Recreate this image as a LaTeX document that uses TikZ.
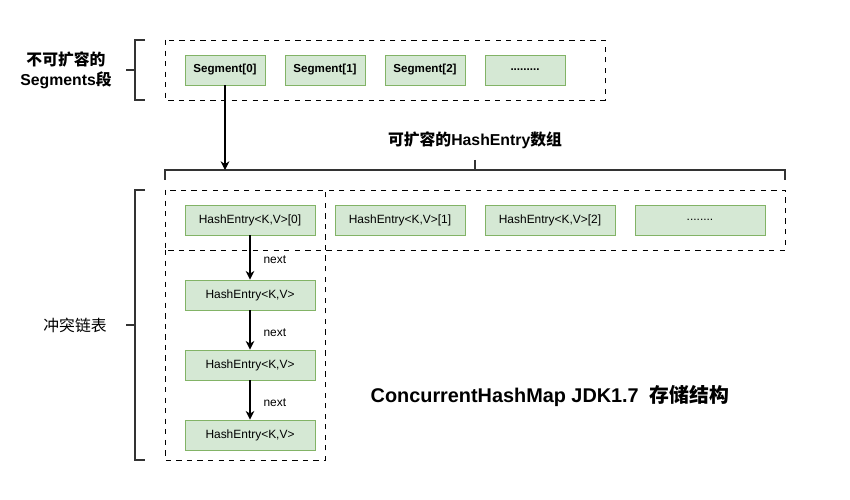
\documentclass[tikz,border=0pt]{standalone}
\usepackage{fontspec}
\setmainfont{Liberation Sans}
\newfontfamily\cjk{Noto Sans CJK SC}
\definecolor{entryfill}{HTML}{D5E8D4}
\definecolor{entryline}{HTML}{82B366}
\definecolor{brkgray}{HTML}{333333}
\usetikzlibrary{arrows.meta, positioning}

\begin{document}
\begin{tikzpicture}[
  x=0.02cm, y=-0.02cm,
  segbox/.style={draw=entryline, fill=entryfill, minimum width=1.6cm, minimum height=0.6cm, inner sep=0pt, font=\fontsize{6.6}{8}\selectfont\bfseries},
  entrybox/.style={draw=entryline, fill=entryfill, minimum width=2.6cm, minimum height=0.6cm, inner sep=0pt, font=\fontsize{6.8}{8}\selectfont},
  dashbox/.style={draw=black, dashed, line width=0.5pt},
  brk/.style={draw=brkgray, line width=1.1pt},
  nextarrow/.style={-{Stealth[length=5pt, width=5pt]}, line width=0.6pt},
  nextlbl/.style={font=\fontsize{6.8}{8}\selectfont, inner sep=0pt, anchor=west}
]
  \useasboundingbox (0,0) rectangle (850,500);

  \draw[dashbox] (165,40) rectangle (605,100);
  \node[segbox] (seg0) at (225,70) {Segment[0]};
  \node[segbox] (seg1) at (325,70) {Segment[1]};
  \node[segbox] (seg2) at (425,70) {Segment[2]};
  \node[segbox] (segdots) at (525,70) {.........};

  \draw[brk] (145,40) -| (135,100) -- (145,100);
  \draw[brk] (126,70) -- (135,70);
  \node[font=\fontsize{9}{11.3}\selectfont\bfseries, align=center] (lblseg) at (66,70)
    {{\cjk 不可扩容的}\\Segments{\cjk 段}};

  \draw[brk] (165,180) |- (785,170) -- (785,180);
  \draw[brk] (475,160) -- (475,170);
  \coordinate (arrin) at (225,170);
  \node[font=\fontsize{9}{11}\selectfont\bfseries] (lblarr) at (475,140)
    {{\cjk 可扩容的}HashEntry{\cjk 数组}};
  \draw[nextarrow] (seg0.south) -- (arrin);

  \draw[dashbox] (165,190) rectangle (785,250);
  \draw[dashbox] (165,250) |- (325,460) -- (325,190);
  \node[entrybox] (e0) at (250,220) {HashEntry<K,V>[0]};
  \node[entrybox] (e1) at (400,220) {HashEntry<K,V>[1]};
  \node[entrybox] (e2) at (550,220) {HashEntry<K,V>[2]};
  \node[entrybox] (edots) at (700,220) {........};

  \node[entrybox] (c1) at (250,295) {HashEntry<K,V>};
  \node[entrybox] (c2) at (250,365) {HashEntry<K,V>};
  \node[entrybox] (c3) at (250,435) {HashEntry<K,V>};
  \draw[nextarrow] (e0) -- node[nextlbl, xshift=0.26cm, yshift=-0.05cm] {next} (c1);
  \draw[nextarrow] (c1) -- node[nextlbl, xshift=0.26cm, yshift=-0.05cm] {next} (c2);
  \draw[nextarrow] (c2) -- node[nextlbl, xshift=0.26cm, yshift=-0.05cm] {next} (c3);

  \draw[brk] (145,190) -| (135,460) -- (145,460);
  \draw[brk] (126,325) -- (135,325);
  \node[font=\fontsize{9}{11}\selectfont] (lblchain) at (75,325) {\cjk 冲突链表};

  \node[font=\fontsize{11.3}{13}\selectfont\bfseries] (title) at (550,396)
    {ConcurrentHashMap JDK1.7\ \ {\cjk 存储结构}};
\end{tikzpicture}
\end{document}
